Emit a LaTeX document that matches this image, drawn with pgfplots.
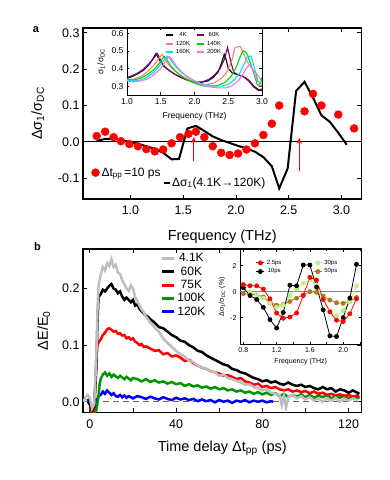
\documentclass[border=0pt]{standalone}
\usepackage{pgfplots}
\pgfplotsset{compat=1.18}
\usetikzlibrary{arrows.meta}
\usepackage{fontspec}
\setmainfont{Liberation Sans}

\definecolor{ltgray}{RGB}{190,190,190}
\definecolor{dgreen}{RGB}{0,150,0}
\definecolor{cpurple}{RGB}{130,0,120}
\definecolor{csalmon}{RGB}{250,128,114}
\definecolor{cgreen}{RGB}{0,215,0}
\definecolor{ccyan}{RGB}{0,225,235}
\definecolor{cpink}{RGB}{240,120,230}
\definecolor{lgreen}{RGB}{190,240,130}
\definecolor{cbrown}{RGB}{175,120,30}

\pgfplotsset{
  fig/.style={scale only axis, anchor=south west, tick align=inside,
    axis line style={line width=1.2pt}, tick style={black, line width=0.8pt},
    scaled ticks=false, /pgf/number format/assume math mode=true},
  oneDec/.style={/pgf/number format/fixed, /pgf/number format/fixed zerofill,
    /pgf/number format/precision=1},
}

\begin{document}
\begin{tikzpicture}
\useasboundingbox (0pt,0pt) rectangle (390pt,480pt);

% ---------------- panel a ----------------
\begin{axis}[fig, oneDec, at={(83pt,281pt)}, width=278.5pt, height=171pt,
  xmin=0.55, xmax=3.19, ymin=-0.157, ymax=0.313,
  xtick={1,1.5,2,2.5,3}, ytick={-0.1,0,0.1,0.2,0.3},
  major tick length=4pt,
  tick label style={font=\fontsize{12.5}{13}\selectfont},
  xticklabel style={yshift=-3pt},
  xlabel={Frequency (THz)}, ylabel={Δσ\textsubscript{1}/σ\textsubscript{DC}},
  label style={font=\fontsize{14.5}{15}\selectfont},
  xlabel style={yshift=-9pt}, ylabel style={yshift=7pt},
  legend style={at={(0.03,0.154)}, anchor=west, draw=none, fill=none,
    font=\fontsize{12}{13}\selectfont, inner sep=0pt},
  legend image code/.code={\draw[mark repeat=2,mark phase=2,#1] plot coordinates {(0pt,0pt) (4pt,0pt) (8pt,0pt)};},
]
\addplot[black, line width=0.8pt, forget plot] coordinates {(0.55,0) (3.19,0)};
\addplot[black, line width=2pt, forget plot] coordinates {
 (0.68,0.003) (0.76,0.008) (0.84,0.009) (0.91,0.005) (0.99,0.0) (1.07,-0.005)
 (1.15,-0.012) (1.23,-0.019) (1.31,-0.03) (1.39,-0.048) (1.46,-0.047) (1.54,0.037)
 (1.62,0.044) (1.70,0.03) (1.78,0.015) (1.86,0.005) (1.94,-0.003) (2.02,-0.011)
 (2.10,-0.018) (2.18,-0.027) (2.26,-0.042) (2.34,-0.067) (2.41,-0.128) (2.49,-0.073)
 (2.57,0.14) (2.65,0.165) (2.73,0.122) (2.81,0.073) (2.89,0.055) (2.97,0.025) (3.05,-0.008)};
\addplot[only marks, mark=*, mark size=4pt, red, mark options={draw=red, fill=red}] coordinates {
 (0.68,0.016) (0.76,0.028) (0.84,0.013) (0.91,0.002) (0.99,-0.006) (1.07,-0.012)
 (1.15,-0.020) (1.23,-0.026) (1.31,-0.021) (1.39,-0.004) (1.47,0.013) (1.55,0.022)
 (1.62,0.028) (1.70,0.013) (1.78,-0.012) (1.86,-0.030) (1.94,-0.036) (2.02,-0.032)
 (2.10,-0.021) (2.18,-0.004) (2.26,0.019) (2.34,0.050) (2.41,0.100) (2.65,0.084)
 (2.73,0.132) (2.81,0.100) (2.97,0.075) (3.12,0.037)};
\addlegendentry{Δt\textsubscript{pp}\,=10 ps}
\draw[red, line width=1.2pt, -{Stealth[length=6pt,width=5pt]}] (axis cs:1.6,-0.053) -- (axis cs:1.6,0.014);
\draw[red, line width=1.2pt, -{Stealth[length=6pt,width=5pt]}] (axis cs:2.6,-0.08) -- (axis cs:2.6,0.011);
\end{axis}

\node[anchor=west, inner sep=0pt, font=\fontsize{12}{13}\selectfont] at (164pt,297pt)
  {\rule[0.3ex]{6pt}{2.5pt}\,Δσ\textsubscript{1}(4.1K→120K)};

% inset a
\begin{axis}[fig, oneDec, at={(127pt,385pt)}, width=135pt, height=67pt,
  xmin=1, xmax=3, ymin=0.25, ymax=0.63,
  axis background/.style={fill=white},
  axis line style={line width=0.9pt}, tick style={line width=0.6pt},
  major tick length=2.5pt,
  xtick={1,1.5,2,2.5,3}, ytick={0.3,0.4,0.5,0.6},
  tick label style={font=\fontsize{8.5}{9}\selectfont},
  xlabel={Frequency (THz)}, ylabel={σ\textsubscript{1}/σ\textsubscript{DC}},
  label style={font=\fontsize{8.5}{9}\selectfont},
  xlabel style={yshift=-1pt}, ylabel style={yshift=0pt},
  legend columns=2,
  legend style={at={(0.28,0.97)}, anchor=north west, draw=none, fill=none,
    font=\fontsize{6}{6.5}\selectfont, inner sep=0pt, row sep=-1pt,
    /tikz/every even column/.append style={column sep=4pt}},
  legend image code/.code={\draw[#1, line width=2pt] (0pt,0pt) -- (7pt,0pt);},
  every axis plot/.append style={line width=1.1pt},
]
\addplot[black] coordinates {(1.00,0.345) (1.08,0.355) (1.16,0.37) (1.24,0.39) (1.30,0.41) (1.36,0.44) (1.43,0.485) (1.48,0.45) (1.54,0.415) (1.62,0.39) (1.70,0.37) (1.80,0.35) (1.90,0.335) (2.00,0.325) (2.10,0.322) (2.20,0.33) (2.28,0.35) (2.35,0.38) (2.40,0.43) (2.44,0.48) (2.47,0.45) (2.50,0.40) (2.56,0.375) (2.64,0.365) (2.72,0.355) (2.80,0.335) (2.88,0.30) (2.95,0.28) (3.00,0.275)};
\addlegendentry{4K}
\addplot[cpurple] coordinates {(1.00,0.35) (1.08,0.36) (1.16,0.375) (1.24,0.395) (1.32,0.425) (1.40,0.46) (1.45,0.485) (1.50,0.445) (1.56,0.41) (1.64,0.385) (1.72,0.365) (1.82,0.345) (1.92,0.33) (2.02,0.322) (2.12,0.325) (2.22,0.34) (2.30,0.365) (2.38,0.40) (2.44,0.45) (2.49,0.52) (2.53,0.45) (2.58,0.38) (2.64,0.365) (2.72,0.355) (2.80,0.33) (2.88,0.295) (2.95,0.275) (3.00,0.285)};
\addlegendentry{60K}
\addplot[csalmon] coordinates {(1.00,0.335) (1.10,0.34) (1.20,0.355) (1.30,0.38) (1.40,0.42) (1.46,0.45) (1.52,0.48) (1.56,0.455) (1.62,0.42) (1.70,0.39) (1.80,0.36) (1.90,0.34) (2.00,0.32) (2.10,0.31) (2.20,0.31) (2.30,0.32) (2.40,0.345) (2.48,0.38) (2.55,0.44) (2.60,0.52) (2.68,0.525) (2.73,0.48) (2.78,0.44) (2.85,0.40) (2.92,0.37) (3.00,0.33)};
\addlegendentry{120K}
\addplot[cgreen] coordinates {(1.00,0.34) (1.10,0.335) (1.20,0.345) (1.30,0.365) (1.40,0.395) (1.48,0.43) (1.55,0.47) (1.60,0.445) (1.66,0.41) (1.75,0.375) (1.85,0.345) (1.95,0.325) (2.05,0.31) (2.15,0.30) (2.25,0.30) (2.35,0.305) (2.45,0.32) (2.55,0.36) (2.62,0.41) (2.68,0.47) (2.72,0.50) (2.77,0.49) (2.82,0.44) (2.88,0.37) (2.93,0.31) (2.97,0.30) (3.00,0.35)};
\addlegendentry{140K}
\addplot[ccyan] coordinates {(1.00,0.335) (1.10,0.33) (1.20,0.335) (1.30,0.35) (1.40,0.38) (1.48,0.415) (1.55,0.45) (1.60,0.47) (1.64,0.455) (1.70,0.42) (1.80,0.38) (1.90,0.35) (2.00,0.33) (2.10,0.315) (2.20,0.305) (2.30,0.30) (2.40,0.30) (2.50,0.31) (2.60,0.34) (2.68,0.38) (2.74,0.43) (2.79,0.47) (2.84,0.47) (2.89,0.40) (2.94,0.33) (3.00,0.30)};
\addlegendentry{160K}
\addplot[cpink] coordinates {(1.00,0.33) (1.10,0.325) (1.20,0.33) (1.30,0.34) (1.40,0.365) (1.50,0.40) (1.57,0.44) (1.62,0.47) (1.67,0.45) (1.74,0.41) (1.84,0.37) (1.95,0.34) (2.05,0.32) (2.15,0.30) (2.25,0.295) (2.35,0.29) (2.45,0.29) (2.55,0.30) (2.65,0.33) (2.72,0.37) (2.78,0.41) (2.82,0.42) (2.87,0.39) (2.93,0.33) (3.00,0.30)};
\addlegendentry{200K}
\end{axis}

% ---------------- panel b ----------------
\begin{axis}[fig, at={(83pt,67.5pt)}, width=278.5pt, height=163.5pt,
  xmin=-3.2, xmax=126, ymin=-0.019, ymax=0.27,
  xtick={0,40,80,120}, minor xtick={20,60,100}, ytick={0,0.1,0.2},
  major tick length=4pt, minor tick length=4pt,
  yticklabel style={oneDec},
  xticklabel style={/pgf/number format/precision=0, yshift=-4pt},
  tick label style={font=\fontsize{12.5}{13}\selectfont},
  xlabel={Time delay Δt\textsubscript{pp} (ps)}, ylabel={ΔE/E\textsubscript{0}},
  label style={font=\fontsize{14.5}{15}\selectfont},
  xlabel style={yshift=-5pt}, ylabel style={yshift=5pt},
  legend style={at={(0.277,0.985)}, anchor=north west, draw=none, fill=none,
    font=\fontsize{12}{13}\selectfont, inner sep=0pt, row sep=-0.5pt},
  legend image code/.code={\draw[#1, line width=3pt] (0pt,0pt) -- (12pt,0pt);},
]
\addplot[gray!80!black, dash pattern=on 6pt off 4pt, line width=0.8pt, forget plot] coordinates {(-3,0) (125,0)};
\addplot[blue, line width=2.5pt, forget plot] coordinates {
 (-1,0.005) (0,-0.005) (1,-0.015) (2,-0.01) (3,0.0) (4,0.01) (5,0.012) (6,0.018) (7,0.014) (8,0.02) (9,0.016) (10,0.012) (11,0.015) (12,0.01) (13,0.009) (14,0.012) (15,0.008) (16,0.011) (17,0.007) (18,0.01) (20,0.006) (22,0.01) (24,0.008) (26,0.005) (28,0.009) (30,0.006) (32,0.004) (34,0.008) (36,0.005) (38,0.003) (40,0.007) (42,0.004) (44,0.006) (46,0.003) (48,0.005) (50,0.001) (52,0.004) (54,0.001) (56,0.003) (58,-0.001) (60,0.003) (62,0.0) (64,0.002) (66,-0.002) (68,0.002) (70,0.0) (72,0.003) (74,-0.001) (76,0.002) (78,0.0) (80,0.002) (82,-0.001) (84,0.001) (85,0.0)};
\addplot[dgreen, line width=2.5pt, forget plot] coordinates {
 (0,-0.01) (1,-0.02) (2,-0.02) (3,-0.015) (4,0.01) (4.5,0.03) (5,0.04) (6,0.048) (7,0.052) (8,0.046) (9,0.05) (10,0.044) (11,0.048) (12,0.045) (13,0.042) (14,0.046) (15,0.043) (16,0.04) (17,0.044) (18,0.041) (19,0.038) (20,0.042) (22,0.04) (24,0.036) (26,0.04) (28,0.035) (30,0.038) (32,0.034) (34,0.036) (36,0.032) (38,0.035) (40,0.031) (42,0.033) (44,0.028) (46,0.031) (48,0.027) (50,0.029) (52,0.025) (54,0.027) (56,0.023) (58,0.026) (60,0.022) (62,0.024) (64,0.02) (66,0.022) (68,0.018) (70,0.02) (72,0.016) (74,0.018) (76,0.014) (78,0.017) (80,0.013) (82,0.016) (84,0.012) (86,0.015) (88,0.01) (90,0.014) (92,0.008) (94,0.012) (96,0.009) (98,0.013) (100,0.008) (102,0.012) (104,0.007) (106,0.011) (108,0.008) (110,0.012) (112,0.006) (114,0.01) (116,0.007) (118,0.011) (120,0.006) (122,0.009) (124,0.006) (125,0.008)};
\addplot[red, line width=2.5pt, forget plot] coordinates {
 (0,-0.01) (1,-0.02) (2,-0.012) (2.5,0.03) (3,0.08) (3.5,0.1) (4,0.105) (5,0.11) (6,0.118) (7,0.122) (8,0.128) (9,0.13) (10,0.127) (11,0.124) (12,0.125) (13,0.12) (14,0.121) (15,0.117) (16,0.118) (17,0.112) (18,0.114) (19,0.11) (20,0.112) (21,0.106) (22,0.104) (23,0.1) (24,0.102) (25,0.097) (26,0.098) (28,0.094) (30,0.09) (32,0.091) (34,0.084) (36,0.086) (38,0.08) (40,0.082) (42,0.078) (44,0.072) (46,0.074) (48,0.068) (50,0.064) (52,0.06) (54,0.058) (56,0.054) (58,0.052) (60,0.05) (62,0.046) (64,0.047) (66,0.044) (68,0.04) (70,0.042) (72,0.036) (74,0.034) (76,0.03) (78,0.032) (80,0.026) (82,0.028) (84,0.024) (86,0.026) (88,0.022) (90,0.02) (92,0.022) (94,0.018) (96,0.02) (98,0.017) (100,0.019) (102,0.015) (104,0.018) (106,0.014) (108,0.016) (110,0.012) (112,0.014) (114,0.011) (116,0.013) (118,0.01) (120,0.012) (122,0.009) (124,0.011) (125,0.008)};
\addplot[black, line width=2.5pt, forget plot] coordinates {
 (-1,0.0) (0,-0.005) (1,-0.015) (2,-0.01) (3,0.06) (3.5,0.14) (4,0.185) (5,0.19) (6,0.198) (7,0.195) (8,0.2) (9,0.205) (10,0.208) (11,0.2) (12,0.198) (13,0.192) (14,0.195) (15,0.186) (16,0.18) (17,0.184) (18,0.18) (19,0.176) (20,0.18) (21,0.17) (22,0.172) (23,0.164) (24,0.16) (25,0.156) (26,0.152) (27,0.15) (28,0.146) (30,0.14) (32,0.132) (34,0.13) (36,0.124) (38,0.118) (40,0.114) (42,0.108) (44,0.106) (46,0.1) (48,0.096) (50,0.09) (52,0.088) (54,0.082) (56,0.078) (58,0.074) (60,0.07) (62,0.066) (64,0.064) (66,0.058) (68,0.056) (70,0.052) (72,0.05) (74,0.046) (76,0.042) (78,0.04) (80,0.036) (82,0.038) (84,0.034) (86,0.036) (88,0.032) (90,0.03) (92,0.034) (94,0.03) (96,0.028) (98,0.03) (100,0.026) (102,0.028) (104,0.024) (106,0.022) (108,0.026) (110,0.022) (112,0.024) (114,0.018) (116,0.022) (118,0.02) (120,0.016) (122,0.02) (124,0.016) (125,0.014)};
\addplot[ltgray, line width=2.5pt, forget plot] coordinates {
 (-3,0.0) (-2,0.008) (-1,0.012) (0,0.006) (1,-0.012) (2,-0.005) (3,0.08) (3.5,0.16) (4,0.205) (5,0.225) (6,0.238) (7,0.232) (8,0.245) (9,0.24) (10,0.252) (11,0.238) (12,0.242) (13,0.228) (14,0.226) (15,0.214) (16,0.208) (17,0.2) (18,0.196) (19,0.206) (20,0.2) (21,0.185) (22,0.178) (23,0.17) (24,0.163) (25,0.158) (26,0.15) (27,0.146) (28,0.14) (29,0.136) (30,0.131) (32,0.124) (34,0.112) (36,0.104) (38,0.097) (40,0.09) (42,0.084) (44,0.08) (46,0.072) (48,0.07) (50,0.064) (52,0.06) (54,0.058) (56,0.054) (58,0.052) (60,0.046) (62,0.048) (64,0.042) (66,0.04) (68,0.037) (70,0.034) (72,0.03) (74,0.031) (76,0.026) (78,0.024) (80,0.02) (82,0.022) (84,0.016) (86,0.014) (88,0.012) (89,-0.006) (90,0.01) (91,-0.01) (92,0.008) (94,0.012) (96,0.006) (98,0.01) (100,0.004) (102,0.008) (104,0.002) (106,0.006) (108,0.0) (110,0.006) (112,0.002) (114,0.007) (116,0.0) (118,0.005) (120,0.002) (122,0.006) (124,0.003)};
\addlegendimage{ltgray}\addlegendentry{4.1K}
\addlegendimage{black}\addlegendentry{60K}
\addlegendimage{red}\addlegendentry{75K}
\addlegendimage{dgreen}\addlegendentry{100K}
\addlegendimage{blue}\addlegendentry{120K}
\end{axis}

% inset b
\begin{axis}[fig, at={(240pt,135.7pt)}, width=121.5pt, height=95pt,
  xmin=0.76, xmax=2.22, ymin=-4.05, ymax=3.26,
  axis background/.style={fill=white},
  axis line style={line width=0.9pt}, tick style={line width=0.6pt},
  major tick length=2.5pt, minor tick length=2pt,
  xtick={0.8,1.2,1.6,2.0}, minor xtick={1.0,1.4,1.8,2.2}, ytick={-2,0,2},
  xticklabel style={oneDec},
  tick label style={font=\fontsize{7}{7.5}\selectfont},
  xlabel={Frequency (THz)}, ylabel={Δσ\textsubscript{1}/σ\textsubscript{DC} (\%)},
  label style={font=\fontsize{7}{7.5}\selectfont},
  xlabel style={yshift=1pt}, ylabel style={yshift=-2pt},
  legend columns=2,
  legend style={at={(0.13,0.91)}, anchor=north west, draw=none, fill=none,
    font=\fontsize{6}{6.5}\selectfont, inner sep=0pt, row sep=-1pt,
    /tikz/every even column/.append style={column sep=30pt}},
  legend image code/.code={\draw[mark repeat=2,mark phase=2,#1] plot coordinates {(0pt,0pt) (4pt,0pt) (8pt,0pt)};},
  every axis plot/.append style={line width=0.8pt, mark=*, mark size=2pt},
]
\addplot[gray, line width=0.8pt, no marks, forget plot] coordinates {(0.76,0) (2.22,0)};
\addplot[cbrown, mark options={fill=cbrown}, forget plot] coordinates {(0.80,-0.15) (0.88,-0.2) (0.96,-0.25) (1.04,-0.4) (1.12,-0.8) (1.20,-1.05) (1.28,-1.0) (1.36,-0.75) (1.44,-0.5) (1.52,-0.25) (1.60,0.0) (1.68,-0.05) (1.76,-0.35) (1.84,-0.65) (1.92,-0.85) (2.00,-0.9) (2.08,-0.7) (2.16,-0.45)};
\addplot[lgreen, mark options={fill=lgreen}, forget plot] coordinates {(0.80,0.3) (0.88,0.0) (0.96,-0.25) (1.04,-0.5) (1.12,-0.9) (1.20,-1.2) (1.28,-1.05) (1.36,-0.3) (1.44,0.2) (1.52,0.65) (1.60,0.95) (1.68,0.5) (1.76,-0.6) (1.84,-1.5) (1.92,-1.85) (2.00,-1.45) (2.08,-0.8) (2.16,0.45)};
\addplot[black, mark options={fill=black}, forget plot] coordinates {(0.80,0.3) (0.88,-0.3) (0.96,-0.6) (1.04,-1.2) (1.12,-2.15) (1.20,-2.8) (1.28,-1.6) (1.36,0.5) (1.44,0.45) (1.52,2.05) (1.60,2.05) (1.68,0.35) (1.76,-1.4) (1.84,-3.4) (1.92,-3.45) (2.00,-2.0) (2.08,-0.5) (2.16,2.1)};
\addplot[red, mark options={fill=red}, forget plot] coordinates {(0.80,0.55) (0.88,0.45) (0.96,0.45) (1.04,0.2) (1.12,-0.55) (1.20,-1.65) (1.28,-2.05) (1.36,-1.95) (1.44,-1.65) (1.52,-0.3) (1.60,1.1) (1.68,0.9) (1.76,-0.6) (1.84,-1.55) (1.92,-2.2) (2.00,-2.3) (2.08,-1.7) (2.16,-0.55)};
\addlegendimage{red, mark=*, mark size=2pt, mark options={fill=red}}\addlegendentry{2.5ps}
\addlegendimage{lgreen, mark=*, mark size=2pt, mark options={fill=lgreen}}\addlegendentry{30ps}
\addlegendimage{black, mark=*, mark size=2pt, mark options={fill=black}}\addlegendentry{10ps}
\addlegendimage{cbrown, mark=*, mark size=2pt, mark options={fill=cbrown}}\addlegendentry{50ps}
\end{axis}

\node[font=\bfseries\fontsize{11}{11}\selectfont] at (36pt,450pt) {a};
\node[font=\bfseries\fontsize{11}{11}\selectfont] at (37.5pt,233pt) {b};
\end{tikzpicture}
\end{document}
